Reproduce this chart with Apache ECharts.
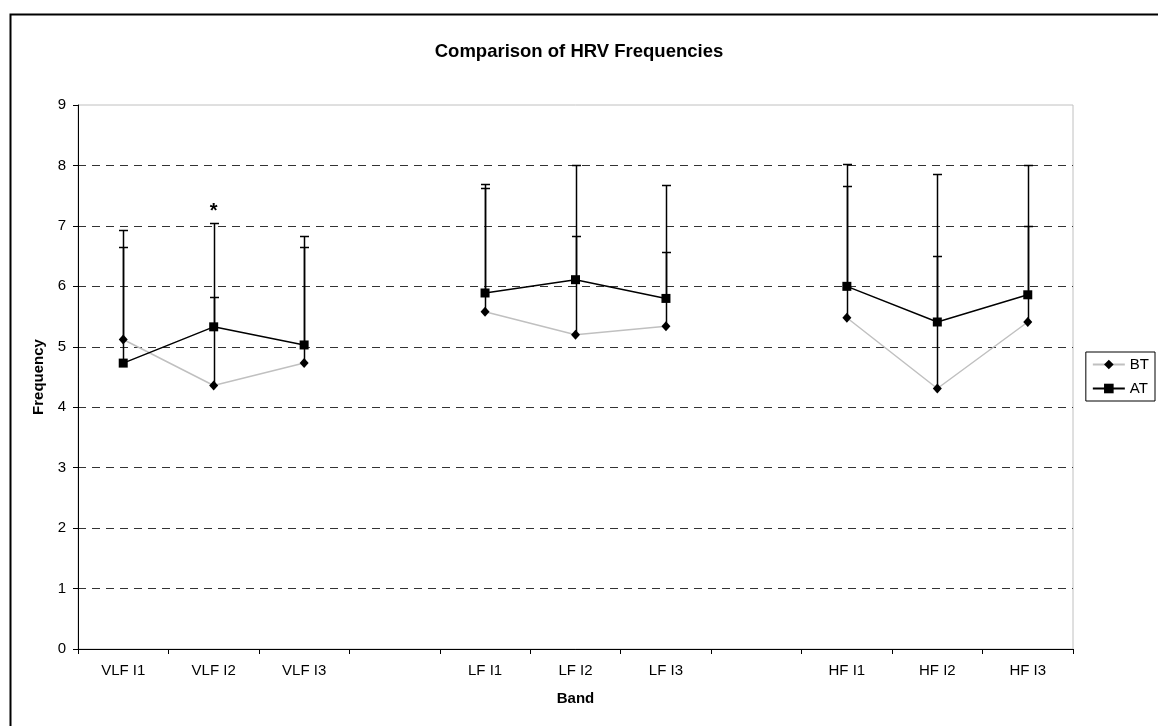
<!DOCTYPE html>
<html>
<head>
<meta charset="utf-8">
<script src="https://cdn.jsdelivr.net/npm/echarts@6/dist/echarts.min.js"></script>
<style>
html,body{margin:0;padding:0;background:#fff;}
#chart{width:1158px;height:726px;}
</style>
</head>
<body>
<div id="chart"></div>
<script>
// ---- data ----
const categories = ['VLF I1','VLF I2','VLF I3',' ','LF I1','LF I2','LF I3','  ','HF I1','HF I2','HF I3'];
const btValues = [5.12, 4.36, 4.73, null, 5.58, 5.20, 5.34, null, 5.48, 4.31, 5.41];
const atValues = [4.73, 5.33, 5.03, null, 5.89, 6.11, 5.80, null, 6.00, 5.41, 5.86];
// upper ends of the (plus-only) error bars
const btUpper = [6.65, 5.82, 6.65, null, 7.62, 6.84, 6.57, null, 7.66, 6.50, 6.99];
const atUpper = [6.93, 7.04, 6.83, null, 7.69, 8.00, 7.68, null, 8.02, 7.86, 8.01];
const yTicks = [0,1,2,3,4,5,6,7,8,9];
const significance = {category: 'VLF I2', value: 7.24, text: '*'};

const FONT = '"Liberation Sans", Arial, sans-serif';

function errData(vals, ups){
  const out = [];
  vals.forEach((v,i)=>{ if(v!=null && ups[i]!=null) out.push([i, v, ups[i]]); });
  return out;
}

function renderErr(params, api){
  const x = api.value(0), lo = api.value(1), hi = api.value(2);
  const p0 = api.coord([x, lo]);
  const p1 = api.coord([x, hi]);
  const cx = Math.round(p0[0]) + 0.5;
  const yt = Math.round(p1[1]) + 0.5;
  return {type:'group', children:[
    {type:'line', shape:{x1:cx, y1:p0[1], x2:cx, y2:yt}, style:{stroke:'#000', lineWidth:1.5}},
    {type:'line', shape:{x1:cx-4.5, y1:yt, x2:cx+4.5, y2:yt}, style:{stroke:'#000', lineWidth:1.5}}
  ]};
}

const chart = echarts.init(document.getElementById('chart'), null, {renderer:'canvas'});
chart.setOption({
  animation: false,
  backgroundColor: '#fff',
  textStyle: {fontFamily: FONT, color:'#000'},
  graphic: [{
    type:'rect', left: 8, top: 12, z: 100,
    shape:{x:0, y:0, width:1170, height:740},
    style:{fill:'none', stroke:'#000', lineWidth:2}
  }],
  title: {
    text: 'Comparison of HRV Frequencies',
    left: 'center', top: 37,
    textStyle: {fontFamily: FONT, fontSize: 18.5, fontWeight:'bold', color:'#000'}
  },
  grid: {
    left: 78, top: 105, right: 85, bottom: 77,
    show: true, borderColor:'#c0c0c0', borderWidth: 1, backgroundColor:'#fff'
  },
  legend: {
    orient: 'vertical',
    right: 3, top: 352,
    data: ['BT','AT'],
    itemWidth: 32, itemHeight: 12, itemGap: 9,
    padding: [5, 6, 5, 6],
    borderColor: '#000', borderWidth: 1,
    textStyle: {fontFamily: FONT, fontSize: 15, color:'#000'}
  },
  xAxis: {
    type: 'category',
    data: categories,
    boundaryGap: true,
    name: 'Band', nameLocation: 'middle', nameGap: 42,
    nameTextStyle: {fontFamily: FONT, fontSize: 15, fontWeight:'bold', color:'#000'},
    axisLine: {lineStyle:{color:'#000', width:1}},
    axisTick: {show:true, alignWithLabel:false, interval:0, length:5, lineStyle:{color:'#000'}},
    axisLabel: {interval:0, margin:14, fontFamily: FONT, fontSize:15, color:'#000'},
    splitLine: {show:false}
  },
  yAxis: {
    type: 'value',
    min: 0, max: 9, interval: 1,
    name: 'Frequency', nameLocation: 'middle', nameGap: 27, nameRotate: 90,
    nameTextStyle: {fontFamily: FONT, fontSize: 15, fontWeight:'bold', color:'#000'},
    axisLine: {show:true, lineStyle:{color:'#000', width:1}},
    axisTick: {show:true, length:5, lineStyle:{color:'#000'}},
    axisLabel: {margin:12, fontFamily: FONT, fontSize:15, color:'#000',
      formatter: v => yTicks.includes(v) ? String(v) : ''},
    splitLine: {show:true, showMaxLine:false, lineStyle:{color:'#333', type:[8,6], width:1}}
  },
  series: [
    {
      name:'BT errors', type:'custom', renderItem: renderErr,
      data: errData(btValues, btUpper), encode:{x:0, y:[1,2]}, z: 1, silent:true
    },
    {
      name:'AT errors', type:'custom', renderItem: renderErr,
      data: errData(atValues, atUpper), encode:{x:0, y:[1,2]}, z: 1, silent:true
    },
    {
      name:'BT', type:'line', data: btValues, connectNulls:false,
      symbol:'diamond', symbolSize:[9,10], showAllSymbol:true,
      lineStyle:{color:'#c0c0c0', width:1.5},
      itemStyle:{color:'#000', borderColor:'#000', borderWidth:0},
      z: 3
    },
    {
      name:'AT', type:'line', data: atValues, connectNulls:false,
      symbol:'rect', symbolSize:9, showAllSymbol:true,
      lineStyle:{color:'#000', width:1.5},
      itemStyle:{color:'#000', borderColor:'#000', borderWidth:0},
      z: 4,
      markPoint: {
        symbol:'circle', symbolSize:1,
        itemStyle:{color:'rgba(0,0,0,0)'},
        label:{show:true, position:'inside', formatter: significance.text,
               fontFamily: FONT, fontSize:20, fontWeight:'bold', color:'#000'},
        data:[{coord:[significance.category, significance.value]}]
      }
    }
  ]
});
</script>
</body>
</html>
